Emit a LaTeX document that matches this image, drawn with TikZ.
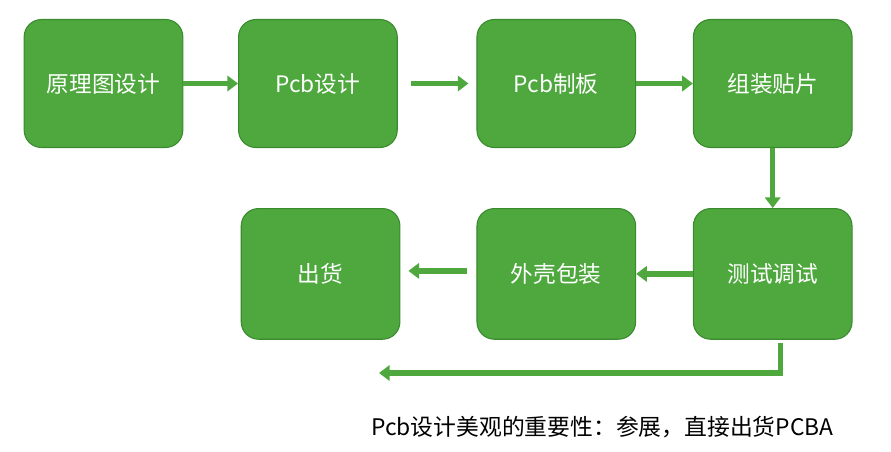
\documentclass[tikz,border=0pt]{standalone}
\usepackage{fontspec}
\setmainfont{Noto Sans CJK SC}
\usepackage{xcolor}
\usepackage{tikz}
\usetikzlibrary{positioning, arrows.meta, calc}

\definecolor{boxgreen}{RGB}{78,168,62}
\definecolor{edgegreen}{RGB}{58,138,46}

\begin{document}
\begin{tikzpicture}[
			x=0.75pt, y=-0.75pt,
			node distance=42pt,
			box/.style={rectangle, draw=edgegreen, fill=boxgreen, rounded corners=13pt, minimum width=119pt, minimum height=96pt, align=center, line width=0.8pt, text=white, font=\fontsize{17}{20}\selectfont},
			arrow/.style={-{Triangle[length=8pt, width=11.5pt]}, draw=boxgreen, line width=4pt}
			]
			\useasboundingbox (0,0) rectangle (891,451);
			% Top row
			\node (sch) [box] at (103.5,83.5) {原理图设计};
			\node (pcb) [box, right=41pt of sch] {Pcb设计};
			\node (board) [box, right=59pt of pcb] {Pcb制板};
			\node (smt) [box, right=42.5pt of board] {组装贴片};
			
			% Bottom row
			\node (test) [box, below=45pt of smt, minimum height=98pt] {测试调试};
			\node (shell) [box, left=42.5pt of test, minimum height=98pt] {外壳包装};
			\node (ship) [box, left=57pt of shell, minimum height=98pt] {出货};
			
			% Note
			\node (note) [anchor=west, inner sep=0pt, font=\fontsize{17.1}{20}\selectfont] at (371,427) {Pcb设计美观的重要性：参展，直接出货PCBA};
			\coordinate (ret) at (379,373);
			
			% Arrows top row
			\draw [arrow] (sch) -- (pcb);
			\draw [arrow, shorten <=10pt, shorten >=6pt] (pcb) -- (board);
			\draw [arrow] (board) -- (smt);
			\draw [arrow] (smt) -- (test);
			
			% Arrows bottom row
			\draw [arrow] (test.west) -- (shell.east);
			\draw [arrow, shorten <=7pt, shorten >=6pt] ($(shell.west)+(0,-3)$) -- ($(ship.east)+(0,-3)$);
			\draw [arrow] ($(test.south)+(8,3)$) |- (ret);
		\end{tikzpicture}
\end{document}
